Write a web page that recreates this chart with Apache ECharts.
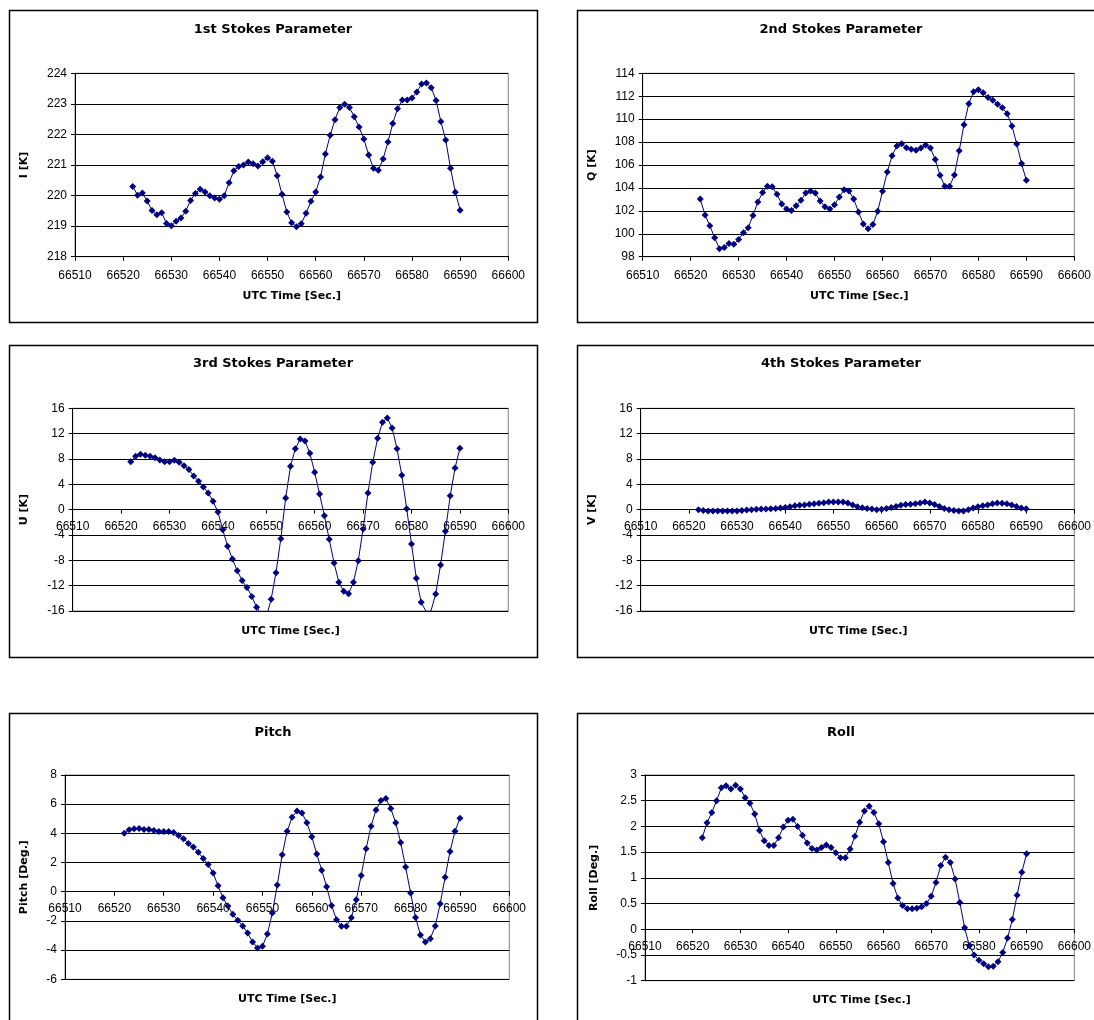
<!DOCTYPE html>
<html><head><meta charset="utf-8">
<script src="https://cdn.jsdelivr.net/npm/echarts@6/dist/echarts.min.js"></script>
<style>html,body{margin:0;padding:0;background:#fff;overflow:hidden}#c{width:1094px;height:1020px}</style>
</head><body><div id="c"></div><script>
// ---- data ----
const times = [66522,66523,66524,66525,66526,66527,66528,66529,66530,66531,66532,66533,66534,66535,66536,66537,66538,66539,66540,66541,66542,66543,66544,66545,66546,66547,66548,66549,66550,66551,66552,66553,66554,66555,66556,66557,66558,66559,66560,66561,66562,66563,66564,66565,66566,66567,66568,66569,66570,66571,66572,66573,66574,66575,66576,66577,66578,66579,66580,66581,66582,66583,66584,66585,66586,66587,66588,66589,66590];
const stokesI = [220.30,220.01,220.08,219.82,219.51,219.37,219.44,219.09,219.01,219.16,
219.27,219.49,219.84,220.07,220.21,220.12,219.99,219.92,219.88,219.99,
220.42,220.81,220.95,221.00,221.10,221.04,220.97,221.11,221.24,221.12,
220.65,220.04,219.46,219.11,218.98,219.08,219.42,219.81,220.12,220.61,
221.36,221.97,222.48,222.88,222.99,222.88,222.58,222.24,221.85,221.33,
220.89,220.83,221.20,221.75,222.36,222.84,223.13,223.13,223.19,223.39,
223.65,223.68,223.53,223.11,222.42,221.82,220.89,220.11,219.52];
const stokesQ = [103.03,101.64,100.70,99.66,98.70,98.80,99.16,99.08,99.50,100.10,
100.53,101.60,102.77,103.60,104.14,104.10,103.44,102.60,102.16,102.04,
102.45,102.92,103.56,103.73,103.56,102.86,102.36,102.16,102.54,103.20,
103.85,103.73,103.03,101.90,100.85,100.44,100.82,101.96,103.70,105.40,
106.80,107.66,107.86,107.50,107.37,107.28,107.48,107.75,107.48,106.47,
105.10,104.14,104.14,105.13,107.25,109.52,111.35,112.40,112.57,112.30,
111.88,111.64,111.30,111.00,110.48,109.40,107.83,106.12,104.66];
const stokesU = [7.58,8.42,8.74,8.58,8.42,8.21,7.84,7.58,7.58,7.79,
7.47,6.95,6.32,5.32,4.47,3.58,2.63,1.32,-0.37,-3.16,
-5.79,-7.79,-9.63,-11.20,-12.30,-13.70,-15.40,-16.60,-17.00,-14.16,
-9.95,-4.58,1.84,6.84,9.63,11.16,10.84,8.89,5.89,2.47,
-0.95,-4.68,-8.42,-11.47,-12.90,-13.26,-11.47,-8.05,-3.05,2.63,
7.47,11.26,13.79,14.47,12.89,9.63,5.42,0.16,-5.42,-10.84,
-14.63,-16.05,-16.05,-13.30,-8.74,-3.42,2.21,6.58,9.68];
const stokesV = [0.00,-0.15,-0.20,-0.20,-0.20,-0.20,-0.20,-0.20,-0.20,-0.15,
-0.05,0.00,0.05,0.10,0.10,0.15,0.20,0.25,0.35,0.45,
0.60,0.70,0.75,0.85,0.95,1.00,1.10,1.20,1.20,1.20,
1.20,1.05,0.75,0.45,0.30,0.20,0.10,0.00,0.05,0.20,
0.35,0.50,0.70,0.80,0.85,0.95,1.05,1.20,1.05,0.80,
0.50,0.20,0.00,-0.15,-0.20,-0.20,0.00,0.25,0.45,0.60,
0.75,0.95,1.05,1.00,0.95,0.75,0.50,0.25,0.15];
const pitch = [4.01,4.24,4.31,4.33,4.26,4.26,4.20,4.13,4.13,4.13,
4.06,3.85,3.63,3.31,3.06,2.71,2.28,1.87,1.28,0.41,
-0.41,-0.98,-1.55,-1.96,-2.35,-2.83,-3.44,-3.85,-3.74,-2.90,
-1.46,0.46,2.53,4.15,5.11,5.54,5.40,4.72,3.76,2.58,
1.48,0.34,-0.94,-1.92,-2.37,-2.37,-1.78,-0.55,1.12,2.94,
4.49,5.61,6.25,6.39,5.70,4.72,3.38,1.69,-0.09,-1.76,
-2.96,-3.44,-3.22,-2.35,-0.82,1.00,2.76,4.15,5.04];
const roll = [1.78,2.07,2.27,2.50,2.75,2.79,2.73,2.80,2.73,2.56,
2.45,2.24,1.92,1.72,1.63,1.63,1.78,1.99,2.12,2.14,
2.00,1.83,1.68,1.57,1.54,1.59,1.64,1.59,1.49,1.39,
1.39,1.56,1.81,2.08,2.30,2.39,2.27,2.05,1.70,1.30,
0.89,0.61,0.46,0.40,0.40,0.41,0.44,0.50,0.64,0.91,
1.24,1.40,1.30,0.98,0.52,0.03,-0.32,-0.50,-0.60,-0.67,
-0.73,-0.72,-0.63,-0.45,-0.17,0.19,0.66,1.11,1.47];
const xTitle = 'UTC Time [Sec.]';
const chartTitles = ['1st Stokes Parameter','2nd Stokes Parameter','3rd Stokes Parameter','4th Stokes Parameter','Pitch','Roll'];
const yTitles = ['I [K]','Q [K]','U [K]','V [K]','Pitch [Deg.]','Roll [Deg.]'];
const seriesData = [stokesI, stokesQ, stokesU, stokesV, pitch, roll];
const yRanges = [[218,224,1],[98,114,2],[-16,16,4],[-16,16,4],[-6,8,2],[-1,3,0.5]];

// ---- layout ----
const layout = [
  {box:[9,10,528,312],  grid:[75,73.3,433.3,183.4],  gap:45, tx:273, ty:30,    nx:291.7, ny:297},
  {box:[577,10,528,312],grid:[642.7,73.3,433.3,183.4],gap:45, tx:841, ty:30,    nx:859.3, ny:297},
  {box:[9,345,528,312], grid:[72.7,408.3,435.6,202.7],gap:43, tx:273, ty:364,   nx:290.5, ny:632},
  {box:[577,345,528,312],grid:[640.7,408.3,435.3,202.7],gap:43,tx:841, ty:364,  nx:858.3, ny:632},
  {box:[9,713,528,312], grid:[65,775,444.3,204.3],   gap:35, tx:273, ty:732.7, nx:287.2, ny:1000},
  {box:[577,713,528,312],grid:[645,775,433,205.7],   gap:45, tx:841, ty:732.7, nx:861.5, ny:1001}
];

// x axis sits where y = 0 when 0 lies inside the y range (Excel "crosses at 0")
function zeroOffset(i){
  const [mn,mx] = yRanges[i];
  if (mn < 0 && mx > 0) return -layout[i].grid[3] * (-mn) / (mx - mn);
  return 0;
}

const NAVY = '#000080';
const option = {
  animation:false,
  backgroundColor:'#fff',
  graphic: layout.map(l => ({type:'rect', silent:true, z:-10,
    shape:{x:l.box[0]+0.5,y:l.box[1]+0.5,width:l.box[2],height:l.box[3]},
    style:{fill:'#fff', stroke:'#000', lineWidth:1.5}})),
  title: [].concat(
    layout.map((l,i)=>({text:chartTitles[i], left:l.tx, top:l.ty-7, textAlign:'center', padding:0,
      textStyle:{fontFamily:'DejaVu Sans', fontWeight:'bold', fontSize:13, color:'#000'}})),
    layout.map((l)=>({text:xTitle, left:l.nx, top:l.ny-6, textAlign:'center', padding:0,
      textStyle:{fontFamily:'DejaVu Sans', fontWeight:'bold', fontSize:11, color:'#000'}}))
  ),
  grid: layout.map(l=>({left:l.grid[0], top:l.grid[1], width:l.grid[2], height:l.grid[3],
    show:true, borderColor:'#808080', borderWidth:1, backgroundColor:'#fff', containLabel:false})),
  xAxis: layout.map((l,i)=>({type:'value', gridIndex:i, min:66510, max:66600, interval:10,
    position:'bottom', offset: zeroOffset(i),
    axisLine:{show:true, onZero:false, lineStyle:{color:'#000', width:1}},
    axisTick:{show:true, length:4, lineStyle:{color:'#000'}},
    axisLabel:{color:'#000', fontFamily:'Liberation Sans', fontSize:12, margin: zeroOffset(i) ? 11 : 12.5, formatter:v=>String(v)},
    splitLine:{show:false}})),
  yAxis: layout.map((l,i)=>({type:'value', gridIndex:i, min:yRanges[i][0], max:yRanges[i][1], interval:yRanges[i][2],
    name:yTitles[i], nameLocation:'middle', nameGap:l.gap, nameRotate:90,
    nameTextStyle:{fontFamily:'DejaVu Sans', fontWeight:'bold', fontSize:11, color:'#000'},
    axisLine:{show:true, onZero:false, lineStyle:{color:'#000', width:1}},
    axisTick:{show:true, length:4, lineStyle:{color:'#000'}},
    axisLabel:{color:'#000', fontFamily:'Liberation Sans', fontSize:12, margin:8},
    splitLine:{show:true, lineStyle:{color:'#000', width:1}}})),
  series: seriesData.map((d,i)=>({type:'line', xAxisIndex:i, yAxisIndex:i,
    data: times.map((t,k)=>[t, d[k]]),
    symbol:'diamond', symbolSize:7, showSymbol:true, clip:true, z:5,
    lineStyle:{color:NAVY, width:1}, itemStyle:{color:NAVY}}))
};
const chart = echarts.init(document.getElementById('c'), null, {renderer:'canvas'});
chart.setOption(option);
</script></body></html>
